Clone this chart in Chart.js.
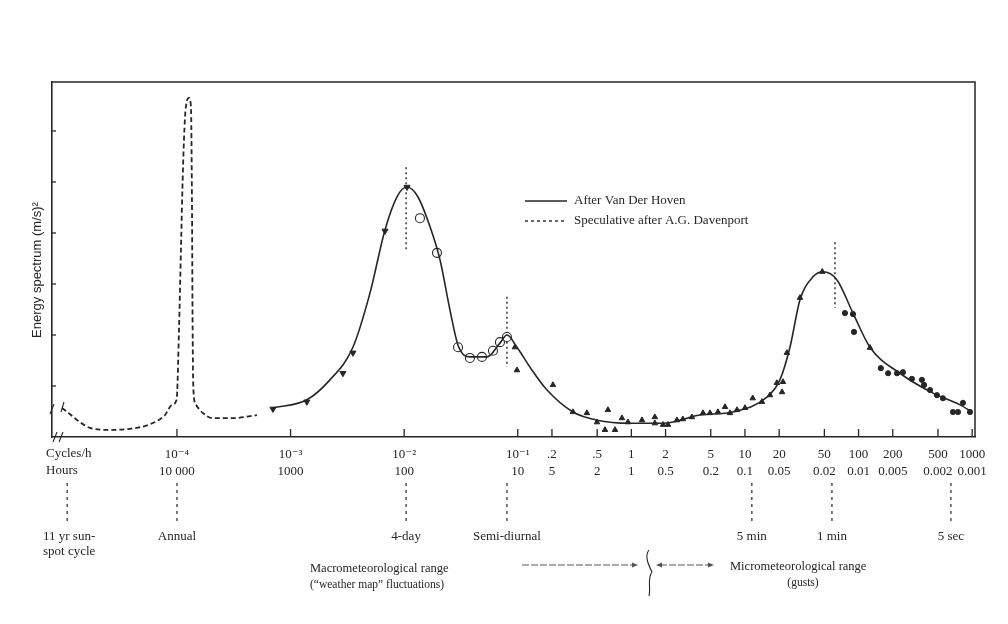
<!DOCTYPE html>
<html>
<head>
<meta charset="utf-8">
<title>Van der Hoven spectrum</title>
<script src="https://cdn.jsdelivr.net/npm/chart.js@4"></script>
<style>
    html, body { margin: 0; padding: 0; background: #fff; }
    canvas { display: block; }
</style>
</head>
<body>
<canvas id="espectro" width="1008" height="624"></canvas>
<script>
// Eixo x: ticks e rótulos (ciclos/h e horas)
const tickFreqs = [1e-4, 1e-3, 1e-2, 0.1, 0.2, 0.5, 1, 2, 5, 10, 20, 50, 100, 200, 500, 1000];
const tickCycles = ['10⁻⁴', '10⁻³', '10⁻²', '10⁻¹', '.2', '.5', '1', '2', '5', '10', '20', '50', '100', '200', '500', '1000'];
const tickHours = ['10 000', '1000', '100', '10', '5', '2', '1', '0.5', '0.2', '0.1', '0.05', '0.02', '0.01', '0.005', '0.002', '0.001'];

// Curva "After Van Der Hoven" (linha cheia)
const hovenFreq = [0.0007, 0.00139, 0.00222, 0.00354, 0.0050, 0.00678, 0.00865, 0.0106, 0.0132, 0.0169, 0.0207, 0.0253, 0.0298, 0.0379, 0.0536, 0.0697, 0.0803, 0.0984, 0.128, 0.181, 0.306, 0.498, 0.973, 1.90, 4.02, 7.83, 15.6, 20.3, 24.9, 30.5, 39.7, 48.6, 64.6, 89.3, 126, 231, 452, 782, 1000];
const hovenEnergy = [0.57, 0.73, 1.12, 1.76, 2.82, 4.06, 4.71, 4.90, 4.71, 4.12, 3.47, 2.49, 1.80, 1.57, 1.57, 1.84, 2.0, 1.76, 1.37, 0.92, 0.49, 0.33, 0.27, 0.27, 0.43, 0.49, 0.78, 1.12, 1.76, 2.69, 3.14, 3.24, 3.08, 2.43, 1.76, 1.25, 0.86, 0.63, 0.49];

// Curva "Speculative after A.G. Davenport" (tracejada)
const davenportFreq = [9.73e-6, 1.14e-5, 1.40e-5, 1.71e-5, 2.57e-5, 3.85e-5, 5.78e-5, 7.84e-5, 9.03e-5, 9.93e-5, 1.042e-4, 1.084e-4, 1.129e-4, 1.176e-4, 1.225e-4, 1.276e-4, 1.328e-4, 1.355e-4, 1.374e-4, 1.396e-4, 1.47e-4, 1.69e-4, 2.07e-4, 3.11e-4, 5.06e-4];
const davenportEnergy = [0.57, 0.45, 0.29, 0.18, 0.14, 0.16, 0.25, 0.43, 0.63, 0.73, 2.1, 3.67, 5.24, 6.25, 6.59, 6.65, 6.47, 4.65, 2.1, 0.92, 0.63, 0.47, 0.37, 0.37, 0.43];

// Pontos medidos
const invTriFreq = [0.0007, 0.00139, 0.00289, 0.00354, 0.00678, 0.0106];
const invTriEnergy = [0.55, 0.69, 1.25, 1.65, 4.04, 4.90];
const openCircFreq = [0.01377, 0.01945, 0.0298, 0.0379, 0.0484, 0.0605, 0.0697, 0.0803];
const openCircEnergy = [4.29, 3.61, 1.76, 1.55, 1.57, 1.69, 1.86, 1.96];
const triFreq = [0.0944, 0.0984, 0.204, 0.306, 0.406, 0.498, 0.586, 0.622, 0.718, 0.826, 0.933, 1.24, 1.61, 1.61, 1.90, 2.10, 2.52, 2.84, 3.41, 4.27, 4.92, 5.78, 6.67, 7.38, 8.51, 10, 11.7, 14.1, 16.6, 19.1, 21.2, 21.6, 23.4, 30.5, 47.9, 126];
const triEnergy = [1.76, 1.31, 1.02, 0.49, 0.47, 0.29, 0.14, 0.53, 0.14, 0.37, 0.29, 0.33, 0.39, 0.27, 0.24, 0.24, 0.33, 0.35, 0.39, 0.47, 0.47, 0.49, 0.59, 0.47, 0.53, 0.57, 0.76, 0.69, 0.82, 1.06, 0.88, 1.08, 1.65, 2.73, 3.24, 1.75];
const dotFreq = [75.9, 89.3, 91.2, 157, 182, 218, 246, 295, 361, 377, 426, 490, 553, 678, 750, 830, 957];
const dotEnergy = [2.43, 2.41, 2.06, 1.35, 1.25, 1.25, 1.27, 1.14, 1.12, 1.02, 0.92, 0.82, 0.76, 0.49, 0.49, 0.67, 0.49];

// Linhas pontilhadas nos picos (dentro do gráfico)
const peakMarkFreq = [0.0104, 0.0803, 62];
const peakMarkTop = [5.29, 2.75, 3.82];
const peakMarkBottom = [3.63, 1.37, 2.53];

// Períodos marcados abaixo do eixo
const periodFreq = [1.08e-5, 1e-4, 0.0104, 0.0803, 11.5, 58.3, 650];
const periodLabels = [['11 yr sun-', 'spot cycle'], ['Annual'], ['4-day'], ['Semi-diurnal'], ['5 min'], ['1 min'], ['5 sec']];

const ink = '#262626';
const serif = "'Liberation Serif', 'DejaVu Serif', serif";
const sans = "'Liberation Sans', 'DejaVu Sans', sans-serif";

function pares(xs, ys) {
    return xs.map((v, i) => ({ x: v, y: ys[i] }));
}

document.addEventListener('DOMContentLoaded', function () {
    const ctx = document.getElementById('espectro').getContext('2d');

    const datasets = [
        {
            label: 'After Van Der Hoven',
            data: pares(hovenFreq, hovenEnergy),
            showLine: true, borderColor: ink, borderWidth: 1.6,
            cubicInterpolationMode: 'monotone', pointRadius: 0
        },
        {
            label: 'Speculative after A.G. Davenport',
            data: pares(davenportFreq, davenportEnergy),
            showLine: true, borderColor: ink, borderWidth: 1.8, borderDash: [5, 3],
            cubicInterpolationMode: 'monotone', pointRadius: 0
        },
        {
            data: pares(invTriFreq, invTriEnergy),
            pointStyle: 'triangle', rotation: 180, pointRadius: 3.5,
            backgroundColor: ink, borderColor: ink, borderWidth: 1
        },
        {
            data: pares(openCircFreq, openCircEnergy),
            pointStyle: 'circle', pointRadius: 4.5,
            backgroundColor: '#fff', borderColor: ink, borderWidth: 1.1
        },
        {
            data: pares(triFreq, triEnergy),
            pointStyle: 'triangle', pointRadius: 3.2,
            backgroundColor: ink, borderColor: ink, borderWidth: 1
        },
        {
            data: pares(dotFreq, dotEnergy),
            pointStyle: 'circle', pointRadius: 2.6,
            backgroundColor: ink, borderColor: ink, borderWidth: 1
        }
    ];

    // uma linha pontilhada vertical para cada pico
    peakMarkFreq.forEach(function (f, i) {
        datasets.push({
            data: [{ x: f, y: peakMarkTop[i] }, { x: f, y: peakMarkBottom[i] }],
            showLine: true, borderColor: ink, borderWidth: 1.4, borderDash: [2, 3], pointRadius: 0
        });
    });

    // desenha moldura, ticks internos, legenda e anotações
    const anotacoes = {
        id: 'anotacoes',
        afterDraw(chart) {
            const c = chart.ctx, a = chart.chartArea, xs = chart.scales.x, ys = chart.scales.y;
            const linha = (x1, y1, x2, y2) => { c.beginPath(); c.moveTo(x1, y1); c.lineTo(x2, y2); c.stroke(); };
            c.save();
            c.strokeStyle = ink;
            c.fillStyle = ink;

            // moldura superior e direita
            c.lineWidth = 1.5;
            c.beginPath();
            c.moveTo(a.left, a.top);
            c.lineTo(a.right, a.top);
            c.lineTo(a.right, a.bottom);
            c.stroke();

            // ticks para dentro
            c.lineWidth = 1.3;
            tickFreqs.forEach(f => {
                const px = xs.getPixelForValue(f);
                linha(px, a.bottom, px, a.bottom - 8);
            });
            for (let v = 1; v <= 6; v++) {
                const py = ys.getPixelForValue(v);
                linha(a.left, py, a.left + 4, py);
            }

            // marcas de quebra "//"
            c.lineWidth = 1.1;
            linha(a.left + 1, a.bottom + 5, a.left + 5, a.bottom - 5);
            linha(a.left + 7, a.bottom + 5, a.left + 11, a.bottom - 5);
            linha(a.left - 2, 414, a.left + 2, 404);
            linha(a.left + 9, 412, a.left + 12, 402);

            // rótulos das linhas do eixo
            c.font = '13px ' + serif;
            c.textAlign = 'left';
            c.textBaseline = 'middle';
            c.fillText('Cycles/h', 46, 454);
            c.fillText('Hours', 46, 471);

            // períodos abaixo do eixo
            c.lineWidth = 1.2;
            periodFreq.forEach((f, i) => {
                const px = xs.getPixelForValue(f);
                c.setLineDash([3, 4]);
                linha(px, 483, px, 523);
                c.setLineDash([]);
                const rot = periodLabels[i];
                if (rot.length > 1) {
                    c.textAlign = 'left';
                    rot.forEach((t, k) => c.fillText(t, 43, 537 + k * 15));
                } else {
                    c.textAlign = 'center';
                    c.fillText(rot[0], px, 537);
                }
            });

            // legenda
            c.textAlign = 'left';
            c.lineWidth = 1.4;
            linha(525, 201, 567, 201);
            c.setLineDash([3, 3]);
            linha(525, 221, 567, 221);
            c.setLineDash([]);
            c.fillText('After Van Der Hoven', 574, 201);
            c.fillText('Speculative after A.G. Davenport', 574, 221);

            // faixas macro / micro meteorológicas
            c.font = '12.5px ' + serif;
            c.fillText('Macrometeorological range', 310, 569);
            c.font = '11.5px ' + serif;
            c.fillText('(\u201cweather map\u201d fluctuations)', 310, 585);
            c.font = '12.5px ' + serif;
            c.fillText('Micrometeorological range', 730, 567);
            c.font = '11.5px ' + serif;
            c.textAlign = 'center';
            c.fillText('(gusts)', 803, 583);

            c.strokeStyle = '#555';
            c.fillStyle = '#555';
            c.lineWidth = 1;
            c.setLineDash([7, 2]);
            linha(522, 565, 634, 565);
            linha(660, 565, 710, 565);
            c.setLineDash([]);
            const ponta = (px, dir) => {
                c.beginPath();
                c.moveTo(px, 565);
                c.lineTo(px - dir * 6, 562.5);
                c.lineTo(px - dir * 6, 567.5);
                c.closePath();
                c.fill();
            };
            ponta(638, 1);
            ponta(656, -1);
            ponta(714, 1);

            // chave
            c.strokeStyle = ink;
            c.lineWidth = 1.1;
            c.beginPath();
            c.moveTo(649, 550);
            c.bezierCurveTo(644, 556, 649, 566, 652, 572);
            c.bezierCurveTo(647, 578, 651, 588, 649, 596);
            c.stroke();

            // título do eixo y
            c.fillStyle = ink;
            c.translate(37, 270);
            c.rotate(-Math.PI / 2);
            c.font = '13px ' + sans;
            c.textAlign = 'center';
            c.fillText('Energy spectrum (m/s)²', 0, 0);

            c.restore();
        }
    };

    new Chart(ctx, {
        type: 'scatter',
        data: { datasets: datasets },
        options: {
            responsive: false,
            animation: false,
            layout: { padding: { top: 82, right: 33, left: 0, bottom: 0 } },
            plugins: {
                legend: { display: false },
                tooltip: { enabled: false }
            },
            scales: {
                x: {
                    type: 'logarithmic',
                    min: Math.pow(10, -5.1),
                    max: Math.pow(10, 3.025),
                    afterBuildTicks: function (scale) {
                        scale.ticks = tickFreqs.map(v => ({ value: v }));
                    },
                    afterFit: function (scale) { scale.height = 187; },
                    grid: { display: false },
                    border: { display: true, color: ink, width: 1.6 },
                    ticks: {
                        autoSkip: false,
                        maxRotation: 0,
                        padding: 1,
                        color: ink,
                        font: { family: serif, size: 13, lineHeight: 1.3 },
                        callback: function (value, index) {
                            return [tickCycles[index], tickHours[index]];
                        }
                    }
                },
                y: {
                    min: 0,
                    max: 6.96,
                    afterFit: function (scale) { scale.width = 52; },
                    grid: { display: false },
                    border: { display: true, color: ink, width: 1.6 },
                    ticks: { display: false, stepSize: 1 }
                }
            }
        },
        plugins: [anotacoes]
    });
});
</script>
</body>
</html>
